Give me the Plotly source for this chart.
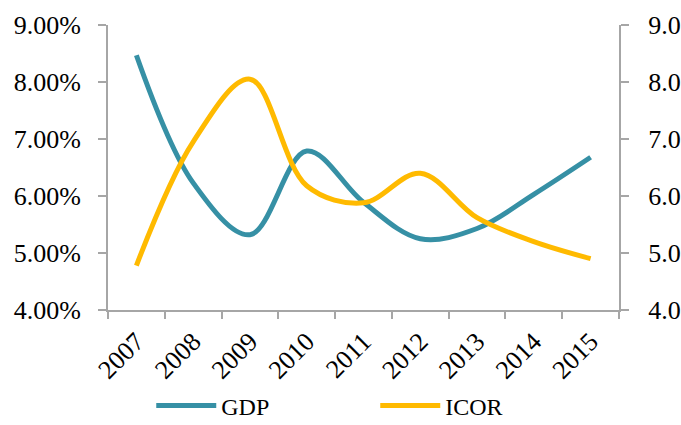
import plotly.graph_objects as go

years = ["2007", "2008", "2009", "2010", "2011", "2012", "2013", "2014", "2015"]
gdp = [8.47, 6.23, 5.32, 6.79, 5.89, 5.25, 5.43, 6.03, 6.68]
icor = [4.78, 6.95, 8.05, 6.18, 5.88, 6.40, 5.62, 5.20, 4.90]

left_ticks = [4, 5, 6, 7, 8, 9]
left_labels = [f"{v:.2f}%" for v in left_ticks]
right_labels = [f"{v:.1f}" for v in left_ticks]

teal = "#3690A5"
gold = "#FFBA00"
axis_col = "#A6A6A6"
font_family = "Liberation Serif"

fig = go.Figure()
fig.add_trace(go.Scatter(x=years, y=gdp, name="GDP", mode="lines",
                         line=dict(color=teal, width=5, shape="spline", smoothing=1.0),
                         yaxis="y"))
fig.add_trace(go.Scatter(x=years, y=icor, name="ICOR", mode="lines",
                         line=dict(color=gold, width=5, shape="spline", smoothing=1.0),
                         yaxis="y2"))

fig.update_layout(
    width=681, height=425,
    margin=dict(l=108, r=62, t=25, b=115, autoexpand=False),
    paper_bgcolor="white", plot_bgcolor="white",
    font=dict(family=font_family, size=26, color="black"),
    showlegend=True,
    legend=dict(orientation="h", x=0.523, xanchor="center", y=-0.415, yanchor="bottom",
                font=dict(size=24), itemwidth=60, entrywidth=149, entrywidthmode="pixels"),
    xaxis=dict(type="category", range=[-0.5, 8.5], automargin=False,
               showline=True, linecolor=axis_col, linewidth=2,
               ticks="outside", ticklen=7, tickcolor=axis_col, tickwidth=2,
               tickson="boundaries", tickangle=-45, ticklabelstandoff=4,
               showgrid=False, zeroline=False),
    yaxis=dict(range=[4, 9], tickvals=left_ticks, ticktext=left_labels, automargin=False,
               showline=True, linecolor=axis_col, linewidth=2,
               ticks="outside", ticklen=8, tickcolor=axis_col, tickwidth=2,
               ticklabelstandoff=12, showgrid=False, zeroline=False),
    yaxis2=dict(range=[4, 9], tickvals=left_ticks, ticktext=right_labels, automargin=False,
                overlaying="y", side="right", anchor="x",
                showline=True, linecolor=axis_col, linewidth=2,
                ticks="outside", ticklen=8, tickcolor=axis_col, tickwidth=2,
                ticklabelstandoff=14, showgrid=False, zeroline=False),
)

fig.write_html("out.html", config={"displayModeBar": False},
               post_script="document.body.style.margin='0';")
